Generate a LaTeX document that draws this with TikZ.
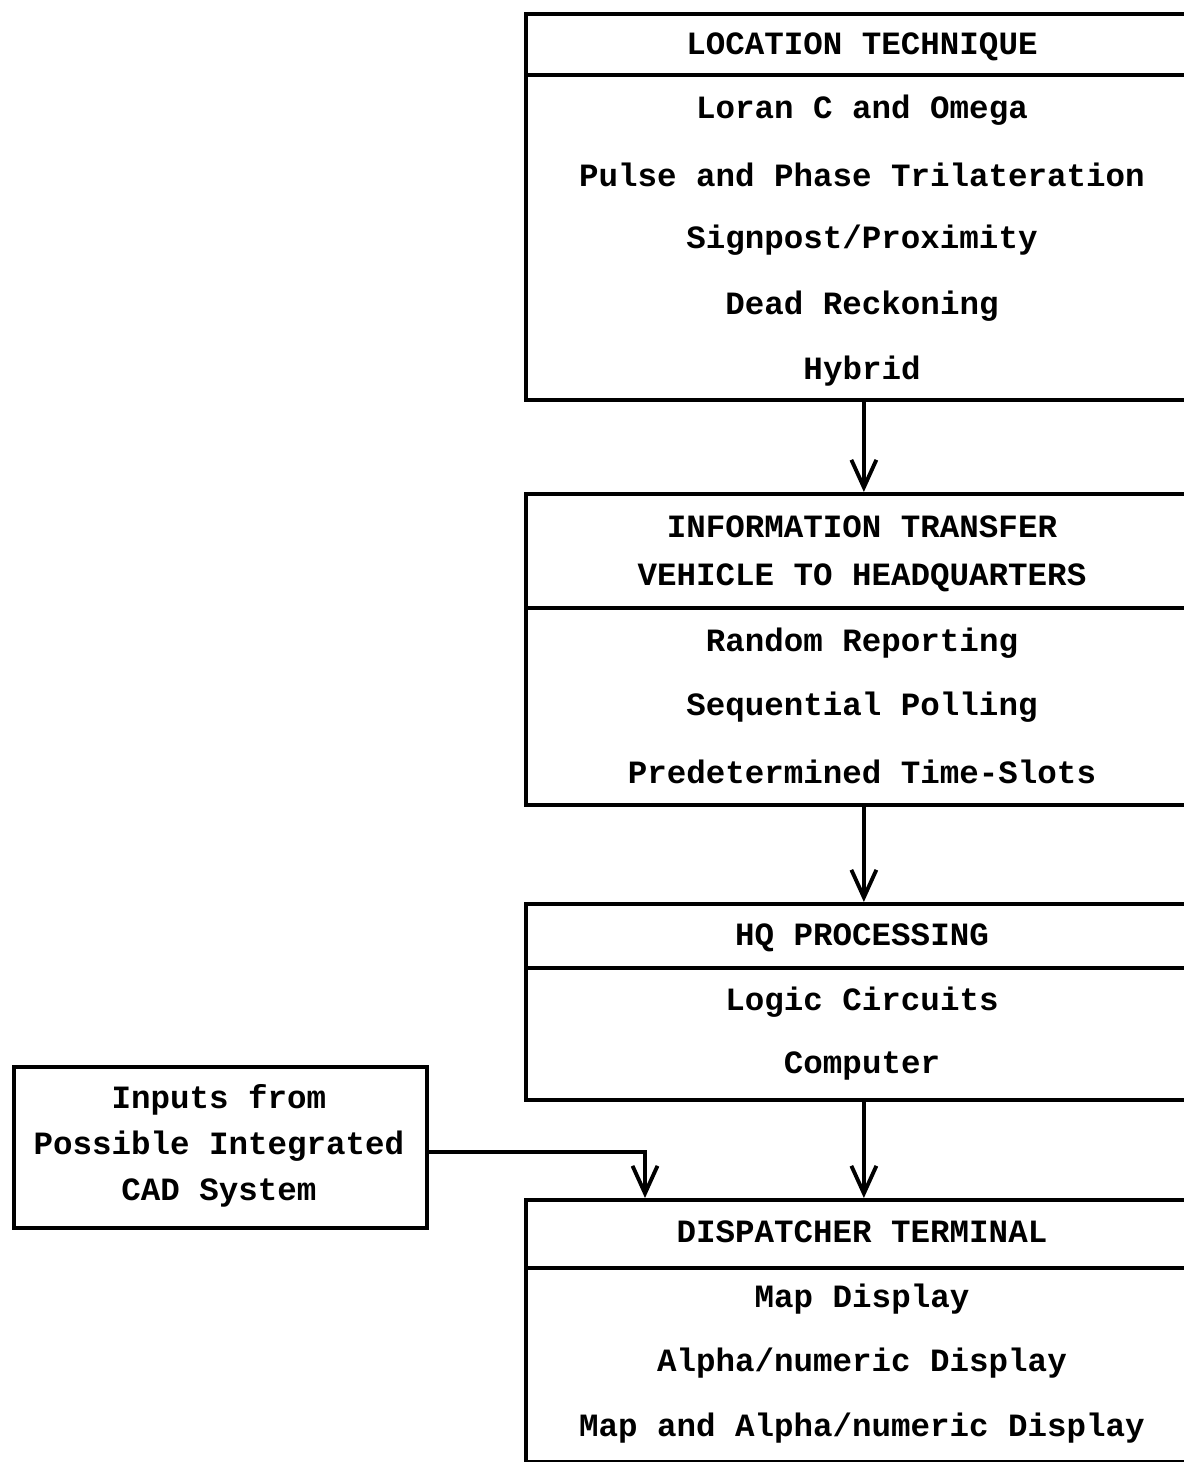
\documentclass[tikz,border=0pt]{standalone}
\usepackage{fontspec}
\setmainfont{Liberation Mono}
\usetikzlibrary{positioning,arrows.meta}

\tikzset{
    box/.style={draw, line width=2.2pt, anchor=north west, inner sep=0pt, minimum width=13.52cm},
    item/.style={font=\fontsize{18.5}{22}\selectfont\bfseries, inner sep=0pt},
    flow/.style={line width=2.2pt, -{Straight Barb[length=0.55cm, width=0.5cm, line width=2.2pt]}}
}

\begin{document}
\begin{tikzpicture}[x=0.02cm, y=-0.02cm]

        \useasboundingbox (0,0) rectangle (1183,1462);

        % main chain of boxes
        \node[box, minimum height=7.72cm] (loc) at (524,12) {};
        \node[box, minimum height=6.22cm] (xfer) at (524,492) {};
        \node[box, minimum height=3.92cm] (hq) at (524,902) {};
        \node[box, minimum height=5.24cm] (dsp) at (524,1198) {};
        \node[box, minimum width=8.26cm, minimum height=3.22cm] (cad) at (12,1065) {};

        % header rules
        \path[draw, line width=2.2pt] (524,75) -- (1200,75);
        \path[draw, line width=2.2pt] (524,608) -- (1200,608);
        \path[draw, line width=2.2pt] (524,968) -- (1200,968);
        \path[draw, line width=2.2pt] (524,1268) -- (1200,1268);

        \node[item] (loch) at (862,47) {LOCATION TECHNIQUE};
        \node[item] (loc1) at (862,110) {Loran C and Omega};
        \node[item] (loc2) at (862,175) {Pulse and Phase Trilateration};
        \node[item] (loc3) at (862,240) {Signpost/Proximity};
        \node[item] (loc4) at (862,306) {Dead Reckoning};
        \node[item] (loc5) at (862,371) {Hybrid};

        \node[item] (xferh1) at (862,527) {INFORMATION TRANSFER};
        \node[item] (xferh2) at (862,578) {VEHICLE TO HEADQUARTERS};
        \node[item] (xfer1) at (862,643) {Random Reporting};
        \node[item] (xfer2) at (862,707) {Sequential Polling};
        \node[item] (xfer3) at (862,772) {Predetermined Time-Slots};

        \node[item] (hqh) at (862,938) {HQ PROCESSING};
        \node[item] (hq1) at (862,1002) {Logic Circuits};
        \node[item] (hq2) at (862,1066) {Computer};

        \node[item] (dsph) at (862,1232) {DISPATCHER TERMINAL};
        \node[item] (dsp1) at (862,1299) {Map Display};
        \node[item] (dsp2) at (862,1363) {Alpha/numeric Display};
        \node[item] (dsp3) at (862,1428) {Map and Alpha/numeric Display};

        \node[item] (cad1) at (219,1100) {Inputs from};
        \node[item] (cad2) at (219,1146) {Possible Integrated};
        \node[item] (cad3) at (219,1193) {CAD System};

        \coordinate (cadin) at (645,1198);

        \draw[flow] (loc.south) -- (xfer.north);
        \draw[flow] (xfer.south) -- (hq.north);
        \draw[flow] (hq.south) -- (dsp.north);
        \draw[flow] (cad.east) ++(0,5) -| (cadin);

    \end{tikzpicture}
\end{document}
